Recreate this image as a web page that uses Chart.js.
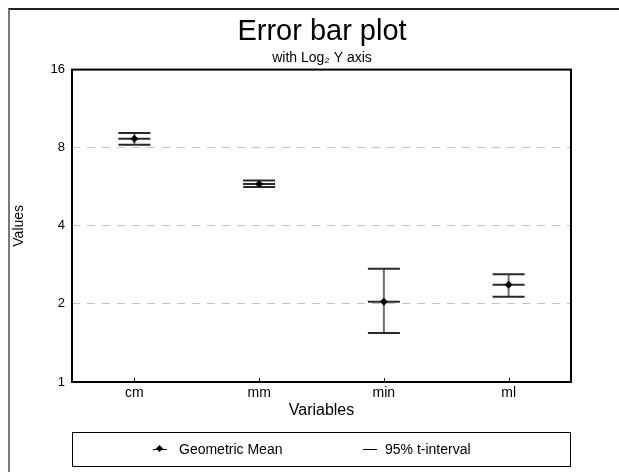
<!DOCTYPE html>
<html>
<head>
<meta charset="utf-8">
<title>Error bar plot</title>
<script src="https://cdn.jsdelivr.net/npm/chart.js@4/dist/chart.umd.min.js"></script>
<style>
  html, body { margin: 0; padding: 0; background: #fff; overflow: hidden; }
  #wrap  { position: relative; width: 619px; height: 472px; }
  #frame { position: absolute; left: 8px; top: 8px; width: 700px; height: 600px;
           border-top: 2px solid #222; border-left: 2px solid #7a7a7a; }
  #legend { position: absolute; left: 72px; top: 432px; width: 499px; height: 35px;
            border: 1px solid #000; box-sizing: border-box;
            font: 14px "Liberation Sans", Arial, sans-serif; color: #000; }
  #legend .item { position: absolute; top: 0; height: 33px; line-height: 33px; white-space: nowrap; }
  .mk-line { position: absolute; top: 16px; width: 14px; height: 1px; background: #000; }
  .mk-dia  { position: absolute; top: 13px; left: 4px; width: 5px; height: 5px; background: #000; transform: rotate(45deg); }
</style>
</head>
<body>
<div id="wrap">
  <div id="frame"></div>
  <canvas id="errChart" width="619" height="472"></canvas>
  <div id="legend">
    <div class="item" style="left:80px"><span class="mk-line" style="left:0"></span><span class="mk-dia"></span></div>
    <div class="item" style="left:106px">Geometric Mean</div>
    <div class="item" style="left:290px"><span class="mk-line" style="left:0"></span></div>
    <div class="item" style="left:312px">95% t-interval</div>
  </div>
</div>
<script>
/* data */
const categories = ['cm', 'mm', 'min', 'ml'];
const geoMean    = [8.66, 5.80, 2.04, 2.37];
const ciLower    = [8.22, 5.64, 1.545, 2.13];
const ciUpper    = [9.11, 5.98, 2.73, 2.60];
const yTicks     = [1, 2, 4, 8, 16];

const FONT = '"Liberation Sans", Arial, sans-serif';

/* error bars: stem + caps + mean line, under the markers */
const errorBars = {
  id: 'errorBars',
  beforeDatasetsDraw(chart) {
    const { ctx, scales: { x, y } } = chart;
    const cap = 16;
    ctx.save();
    categories.forEach((c, i) => {
      const px   = x.getPixelForValue(i);
      const yLo  = y.getPixelForValue(ciLower[i]);
      const yHi  = y.getPixelForValue(ciUpper[i]);
      const yMid = y.getPixelForValue(geoMean[i]);
      ctx.strokeStyle = '#707070';
      ctx.lineWidth = 2;
      ctx.beginPath();
      ctx.moveTo(px, yHi); ctx.lineTo(px, yLo);
      ctx.stroke();
      ctx.strokeStyle = '#2a2a2a';
      ctx.beginPath();
      [yHi, yMid, yLo].forEach(yy => { ctx.moveTo(px - cap, yy); ctx.lineTo(px + cap, yy); });
      ctx.stroke();
    });
    ctx.restore();
  },
  afterDraw(chart) {
    const { ctx, chartArea: a, scales: { x } } = chart;
    ctx.save();
    ctx.strokeStyle = '#000';
    ctx.lineWidth = 2;
    ctx.strokeRect(a.left, a.top, a.right - a.left, a.bottom - a.top);
    // small inside ticks on the category axis
    ctx.lineWidth = 1;
    ctx.beginPath();
    categories.forEach((c, i) => {
      const px = Math.round(x.getPixelForValue(i)) + 0.5;
      ctx.moveTo(px, a.bottom); ctx.lineTo(px, a.bottom - 4);
    });
    ctx.stroke();
    ctx.restore();
  }
};

new Chart(document.getElementById('errChart'), {
  type: 'line',
  data: {
    labels: categories,
    datasets: [{
      label: 'Geometric Mean',
      data: geoMean,
      showLine: false,
      pointStyle: 'rectRot',
      pointRadius: 4,
      pointBackgroundColor: '#000',
      pointBorderColor: '#000',
      pointBorderWidth: 0,
    }],
  },
  options: {
    responsive: false,
    animation: false,
    // left pad 25 + empty right axis 48 keeps the titles centred over the plot
    layout: { padding: { left: 25, right: 0, top: 0, bottom: 0 } },
    plugins: {
      legend: { display: false },
      tooltip: { enabled: false },
      title: {
        display: true,
        text: 'Error bar plot',
        color: '#000',
        font: { family: FONT, size: 29, weight: 'normal' },
        padding: { top: 15, bottom: 0 },
      },
      subtitle: {
        display: true,
        text: 'with Log\u2082 Y axis',
        color: '#000',
        font: { family: FONT, size: 14, weight: 'normal' },
        padding: { top: 0, bottom: 3 },
      },
    },
    scales: {
      x: {
        type: 'category',
        offset: true,
        grid: { display: false, drawTicks: false },
        border: { display: false },
        ticks: { color: '#000', padding: 3, font: { family: FONT, size: 14 } },
        title: {
          display: true,
          text: 'Variables',
          color: '#000',
          font: { family: FONT, size: 16 },
          padding: { top: 0, bottom: 52 },
        },
        afterFit: s => { s.height = 90; },
      },
      y: {
        type: 'logarithmic',
        min: 1,
        max: 16,
        afterBuildTicks: s => { s.ticks = yTicks.map(v => ({ value: v })); },
        grid: {
          color: c => (c.tick && (c.tick.value === 1 || c.tick.value === 16)) ? 'rgba(0,0,0,0)' : '#c4c4c4',
          lineWidth: 1,
          drawTicks: false,
        },
        border: { display: false, dash: [8, 7] },
        ticks: {
          color: '#000',
          padding: 7,
          font: { family: FONT, size: 13 },
          callback: v => String(v),
        },
        title: {
          display: true,
          text: 'Values',
          color: '#000',
          font: { family: FONT, size: 14 },
          padding: { top: -14, bottom: 0 },
        },
        afterFit: s => { s.width = 47; },
      },
      yRight: {
        position: 'right',
        display: true,
        grid: { display: false, drawTicks: false },
        border: { display: false },
        ticks: { display: false },
        afterFit: s => { s.width = 48; },
      },
    },
  },
  plugins: [errorBars],
});
</script>
</body>
</html>
